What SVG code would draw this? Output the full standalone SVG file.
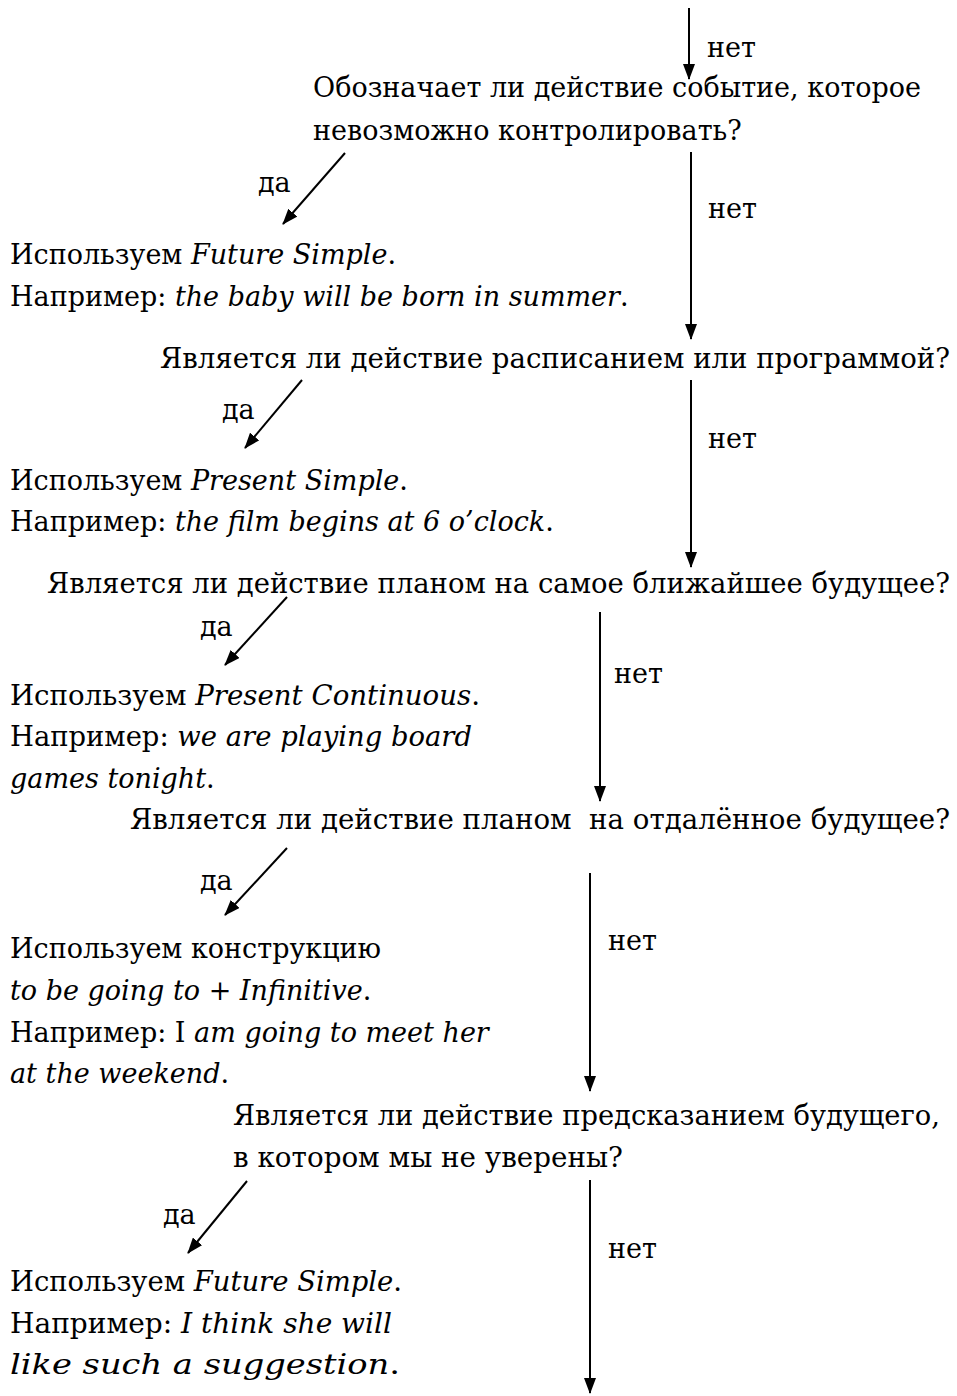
<svg xmlns="http://www.w3.org/2000/svg" width="957" height="1396" viewBox="0 0 957 1396">
<style>
text{font-family:"DejaVu Serif","Liberation Serif",serif;font-size:27px;fill:#000}
.i{font-style:italic}
.c line{stroke:#000;stroke-width:2}
</style>
<defs>
<marker id="ah" viewBox="0 0 16 12" refX="15" refY="6" markerWidth="16" markerHeight="12" markerUnits="userSpaceOnUse" orient="auto">
<path d="M0,0 L16,6 L0,12 Z" fill="#000"/>
</marker>
</defs>
<rect width="957" height="1396" fill="#fff"/>
<g class="c" id="connectors">
<line x1="689" y1="8" x2="689" y2="79" marker-end="url(#ah)"/>
<line x1="345" y1="153" x2="283" y2="224" marker-end="url(#ah)"/>
<line x1="691" y1="152" x2="691" y2="339" marker-end="url(#ah)"/>
<line x1="302" y1="380" x2="245" y2="448" marker-end="url(#ah)"/>
<line x1="691" y1="380" x2="691" y2="567" marker-end="url(#ah)"/>
<line x1="287" y1="597" x2="225" y2="665" marker-end="url(#ah)"/>
<line x1="600" y1="612" x2="600" y2="801" marker-end="url(#ah)"/>
<line x1="287" y1="848" x2="225" y2="915" marker-end="url(#ah)"/>
<line x1="590" y1="873" x2="590" y2="1091" marker-end="url(#ah)"/>
<line x1="247" y1="1181" x2="188" y2="1253" marker-end="url(#ah)"/>
<line x1="590" y1="1180" x2="590" y2="1393" marker-end="url(#ah)"/>
</g>
<g id="labels">
<text x="707" y="57">нет</text>
<text x="258" y="192">да</text>
<text x="708" y="218">нет</text>
<text x="222" y="419">да</text>
<text x="708" y="448">нет</text>
<text x="200" y="636">да</text>
<text x="614" y="683">нет</text>
<text x="200" y="890">да</text>
<text x="608" y="950">нет</text>
<text x="163" y="1224">да</text>
<text x="608" y="1258">нет</text>
</g>
<g id="q1">
<text x="313" y="97">Обозначает ли действие событие, которое</text>
<text x="313" y="140">невозможно контролировать?</text>
</g>
<g id="a1">
<text x="10" y="264">Используем <tspan class="i">Future Simple</tspan>.</text>
<text x="10" y="306">Например: <tspan class="i">the baby will be born in summer</tspan>.</text>
</g>
<g id="q2">
<text x="160" y="368" textLength="790" lengthAdjust="spacingAndGlyphs">Является ли действие расписанием или программой?</text>
</g>
<g id="a2">
<text x="10" y="490">Используем <tspan class="i">Present Simple</tspan>.</text>
<text x="10" y="531">Например: <tspan class="i">the film begins at 6 o’clock</tspan>.</text>
</g>
<g id="q3">
<text x="47" y="593" textLength="903" lengthAdjust="spacingAndGlyphs">Является ли действие планом на самое ближайшее будущее?</text>
</g>
<g id="a3">
<text x="10" y="705" textLength="470" lengthAdjust="spacingAndGlyphs">Используем <tspan class="i">Present Continuous</tspan>.</text>
<text x="10" y="746" textLength="462" lengthAdjust="spacingAndGlyphs">Например: <tspan class="i">we are playing board</tspan></text>
<text x="10" y="788"><tspan class="i">games tonight</tspan>.</text>
</g>
<g id="q4">
<text x="130" y="829" xml:space="preserve" textLength="820" lengthAdjust="spacingAndGlyphs">Является ли действие планом  на отдалённое будущее?</text>
</g>
<g id="a4">
<text x="10" y="958">Используем конструкцию</text>
<text x="10" y="1000"><tspan class="i">to be going to + Infinitive</tspan>.</text>
<text x="10" y="1042">Например: I <tspan class="i">am going to meet her</tspan></text>
<text x="10" y="1083"><tspan class="i">at the weekend</tspan>.</text>
</g>
<g id="q5">
<text x="233" y="1125" textLength="707" lengthAdjust="spacingAndGlyphs">Является ли действие предсказанием будущего,</text>
<text x="233" y="1167" textLength="390" lengthAdjust="spacingAndGlyphs">в котором мы не уверены?</text>
</g>
<g id="a5">
<text x="10" y="1291" textLength="392" lengthAdjust="spacingAndGlyphs">Используем <tspan class="i">Future Simple</tspan>.</text>
<text x="10" y="1333" textLength="382" lengthAdjust="spacingAndGlyphs">Например: <tspan class="i">I think she will</tspan></text>
<text x="10" y="1374" textLength="390" lengthAdjust="spacingAndGlyphs"><tspan class="i">like such a suggestion</tspan>.</text>
</g>
</svg>
